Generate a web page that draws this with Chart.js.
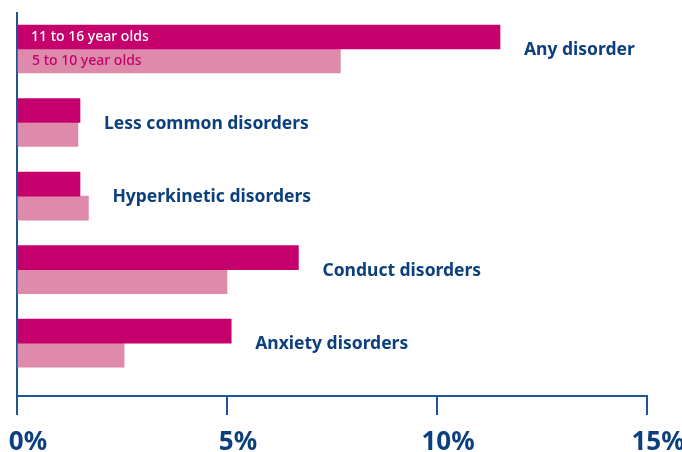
<!DOCTYPE html>
<html>
<head>
<meta charset="utf-8">
<script src="https://cdn.jsdelivr.net/npm/chart.js@4.4.1/dist/chart.umd.min.js"></script>
<style>
  html, body { margin: 0; padding: 0; background: #fff; }
  #wrap { width: 682px; height: 452px; }
</style>
</head>
<body>
<div id="wrap"><canvas id="chart"></canvas></div>
<script>
// Data
const categories = ['Any disorder', 'Less common disorders', 'Hyperkinetic disorders', 'Conduct disorders', 'Anxiety disorders'];
const seriesNames = ['11 to 16 year olds', '5 to 10 year olds'];
const olderValues = [11.5, 1.5, 1.5, 6.7, 5.1];
const youngerValues = [7.7, 1.45, 1.7, 5.0, 2.55];
const xTicks = [0, 5, 10, 15];

const blue = '#0c3f7e';
const axisBlue = '#1f5596';
const dark = '#c5006d';
const light = '#de8aab';

// bars sit on a numeric y axis so the gap under the last group can be kept
const toPoints = vals => vals.map((v, i) => ({ x: v, y: i }));

// labels next to each group, plus the series names inside the top bars
const labelPlugin = {
    id: 'barLabels',
    afterDatasetsDraw(chart) {
        const { ctx, scales } = chart;
        ctx.save();
        ctx.textBaseline = 'middle';
        ctx.textAlign = 'left';
        ctx.font = 'bold 17.5px "Noto Sans"';
        ctx.fillStyle = blue;
        categories.forEach((name, i) => {
            const end = Math.max(olderValues[i], youngerValues[i]);
            ctx.fillText(name, scales.x.getPixelForValue(end) + 24, scales.y.getPixelForValue(i) + 1);
        });

        ctx.font = '500 14px "Noto Sans"';
        const m0 = chart.getDatasetMeta(0).data[0];
        const m1 = chart.getDatasetMeta(1).data[0];
        ctx.fillStyle = '#fff';
        ctx.fillText(seriesNames[0], scales.x.left + 14, m0.y);
        ctx.fillStyle = dark;
        ctx.fillText(seriesNames[1], scales.x.left + 15, m1.y);
        ctx.restore();
    }
};

new Chart(document.getElementById('chart'), {
    type: 'bar',
    data: {
        datasets: [
            { label: seriesNames[0], data: toPoints(olderValues), backgroundColor: dark, barThickness: 24 },
            { label: seriesNames[1], data: toPoints(youngerValues), backgroundColor: light, barThickness: 24 }
        ]
    },
    options: {
        indexAxis: 'y',
        responsive: true,
        maintainAspectRatio: false,
        animation: false,
        layout: { padding: { left: 17, right: 35, top: 13, bottom: 0 } },
        plugins: { legend: { display: false }, tooltip: { enabled: false } },
        scales: {
            x: {
                type: 'linear',
                min: 0,
                max: 15,
                afterBuildTicks: scale => { scale.ticks = xTicks.map(v => ({ value: v })); },
                afterFit: scale => { scale.paddingLeft = 0; scale.paddingRight = 0; scale.height = 56; },
                grid: { drawOnChartArea: false, color: axisBlue, lineWidth: 2, tickLength: 19 },
                border: { color: axisBlue, width: 2 },
                ticks: {
                    color: blue,
                    font: { family: 'Noto Sans', size: 26, weight: 'bold', lineHeight: 0.846 },
                    padding: 17,
                    labelOffset: 11,
                    callback: v => v + '%'
                }
            },
            y: {
                type: 'linear',
                reverse: true,
                offset: false,
                bounds: 'data',
                min: -0.49,
                max: 4.72,
                afterDataLimits: scale => { scale.min = -0.49; scale.max = 4.72; },
                grid: { display: false, offset: false },
                border: { color: axisBlue, width: 2 },
                ticks: { display: false },
                afterFit: scale => { scale.width = 0; }
            }
        }
    },
    plugins: [labelPlugin]
});
</script>
</body>
</html>
